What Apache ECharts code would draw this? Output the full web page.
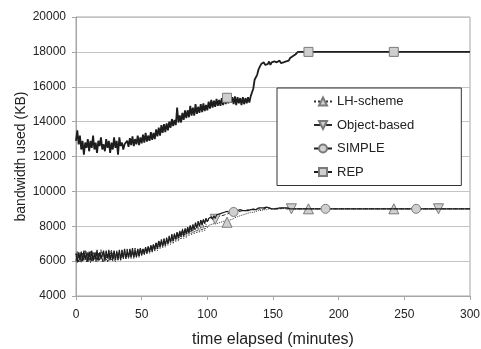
<!DOCTYPE html>
<html><head><meta charset="utf-8">
<script src="https://cdn.jsdelivr.net/npm/echarts@6/dist/echarts.min.js"></script>
<style>html,body{margin:0;padding:0;background:#fff}#c{width:481px;height:349px}</style>
</head><body><div id="c"></div>
<script>
// x axis ticks
const xTicks = [0, 50, 100, 150, 200, 250, 300];
const yTicks = [4000, 6000, 8000, 10000, 12000, 14000, 16000, 18000, 20000];
const seriesNames = ['LH-scheme', 'Object-based', 'SIMPLE', 'REP'];

// REP, one sample per minute from 0 to 170
const repValues = [
12900,13500,12700,13200,12400,12900,12100,12800,12500,13000,
12300,12900,12500,13200,12400,12800,12200,12900,12600,13100,
12400,12700,12300,13000,12500,12900,12200,12800,12400,13100,
12500,12900,12100,13100,12600,12800,12400,12700,12600,12900,
12550,13050,12650,13150,12600,13000,12700,13200,12650,13100,
12750,13250,12800,13350,12850,13200,12900,13400,12950,13350,
13000,13550,13150,13650,13200,13800,13350,13850,13400,13900,
13500,14000,13650,14150,13750,14100,13800,14800,13950,14350,
13950,14500,14100,14650,14200,14650,14250,14900,14350,14800,
14350,15000,14450,14850,14500,15000,14550,15050,14600,14950,
14650,15150,14750,15250,14800,15200,14850,15300,14900,15250,
14900,15350,14950,15400,15000,15370,15050,15500,15100,15400,
15000,15450,14950,15400,15050,15350,14950,15400,15000,15350,
15050,15400,15100,15450,15550,15900,16400,16300,16700,17000,
17150,17300,17200,17400,17250,17350,17300,17450,17250,17400,
17300,17450,17350,17400,17300,17500,17350,17450,17400,17500,
17450,17550,17500,17650,17600,17750,17700,17850,17900,18000,
18000];
const repTail = [[177, 18000], [242, 18000], [300, 18000]];
const repMarks = [115, 177, 242];

// SIMPLE, one sample per minute from 0 to 165
const simpleValues = [
6450,5950,6500,6050,6550,6000,6600,6100,6450,5950,
6550,6050,6600,6000,6450,6100,6650,6050,6500,6150,
6050,6600,6000,6550,6150,6650,6050,6500,6100,6600,
6050,6550,6150,6650,6100,6600,6200,6700,6150,6600,
6200,6700,6250,6750,6200,6650,6250,6700,6300,6750,
6350,6700,6400,6800,6450,6850,6500,6900,6550,6950,
6650,7050,6700,7150,6800,7200,6850,7250,6900,7300,
7000,7400,7100,7500,7150,7550,7250,7650,7300,7700,
7400,7800,7450,7850,7550,7950,7600,8050,7700,8100,
7800,8200,7900,8250,8000,8350,8050,8400,8150,8450,
8250,8450,8350,8550,8400,8600,8450,8650,8550,8700,
8600,8750,8650,8800,8700,8850,8750,8800,8750,8850,
8820,8850,8800,8900,8850,8950,8850,8900,8950,8900,
8950,8900,9000,8950,9000,8950,9050,8950,9000,9050,
9000,9050,9000,9050,9000,9100,9000,9050,9050,9000,
9050,9000,9100,9000,9050,9050,9000,9050,9000,9050,
9000,9050,9000,9000,9000,9000];
const simpleTail = [[190, 9000], [259, 9000], [300, 9000]];
const simpleMarks = [120, 190, 259];

// Object-based
const objectValues = [
6000,6550,5950,6500,5900,6450,6050,6600,5950,6550,
6050,6600,5950,6500,6100,6550,5950,6450,6050,6650,
5950,6500,6100,6600,5950,6450,6050,6650,6000,6550,
6100,6600,6000,6500,6050,6650,6100,6600,6150,6700,
6200,6650,6150,6600,6250,6750,6200,6650,6300,6750,
6400,6750,6450,6800,6500,6850,6550,6950,6650,7000,
6700,7100,6800,7200,6850,7250,6900,7300,7000,7350,
7050,7450,7150,7550,7200,7600,7300,7700,7350,7750,
7450,7850,7550,7900,7600,7950,7700,8050,7750,8100,
7850,8200,7950,8300,8000,8350,8100,8400,8150,8450,
8250,8400,8300,8450,8350,8500,8400,8450,8500,8550,
8500,8600,8550,8650,8600,8700,8650,8750,8700,8750,
8700,8800,8750,8850,8800,8850,8800,8900,8850,8900,
8850,8950,8900,8950,8900,9000,8950,9000,8950,9000,
9000,8950,9050,9000,9000,9050,9000,9050,9000,9000,
9050,9000,9050,9000,9050,9000,9000,9050,9000,9000,
9050,9000,9000,9000,9000,9000];
const objectTail = [[276, 9000], [300, 9000]];
const objectMarks = [106, 164, 276];

// LH-scheme
const lhValues = [
6400,5900,6500,5950,6450,6000,6400,6050,6550,5950,
6450,5900,6400,6050,6500,5950,6450,6000,6400,6100,
6500,5950,6450,6050,6400,6000,6550,6050,6450,6100,
5950,6450,6100,6500,6050,6450,6150,6550,6100,6500,
6150,6600,6200,6650,6150,6550,6250,6700,6200,6600,
6300,6650,6350,6750,6400,6800,6450,6850,6500,6900,
6550,7000,6600,7050,6700,7150,6750,7200,6800,7250,
6900,7300,6950,7400,7000,7450,7100,7500,7150,7550,
7250,7650,7300,7700,7350,7750,7450,7800,7500,7850,
7550,7900,7600,7950,7650,8000,7700,8050,7750,8100,
7900,8050,7950,8100,8000,8150,8050,8150,8100,8200,
8150,8250,8200,8300,8200,8230,8300,8350,8350,8400,
8400,8500,8450,8550,8500,8600,8550,8650,8600,8700,
8650,8750,8700,8800,8750,8800,8800,8850,8800,8900,
8850,8900,8900,8950,8900,8950,8950,9000,8950,9000,
8950,9000,9000,9050,9000,9000,9050,9000,9000,9050,
9000,9000,9000,9000,9000,9000];
const lhTail = [[177, 9000], [242, 9000], [300, 9000]];
const lhMarks = [115, 177, 242];

function build(values, tail) {
  return values.map((v, i) => [i, v]).concat(tail);
}
function sizer(marks, size) {
  return function (val) { return marks.indexOf(val[0]) >= 0 ? size : 0; };
}
const markerStyle = { color: '#cfcfcf', borderColor: '#7a7a7a', borderWidth: 1 };

const chart = echarts.init(document.getElementById('c'), null, { renderer: 'canvas' });
chart.setOption({
  animation: false,
  textStyle: { fontFamily: 'Liberation Sans, Arial, sans-serif' },
  grid: { left: 76, right: 11, top: 17, bottom: 53, show: true, borderColor: '#a6a6a6', borderWidth: 1,
          backgroundColor: '#fff', containLabel: false, outerBoundsMode: 'none' },
  xAxis: {
    type: 'value', min: xTicks[0], max: xTicks[xTicks.length - 1], interval: 50,
    name: 'time elapsed (minutes)', nameLocation: 'middle', nameGap: 36, nameMoveOverlap: false,
    nameTextStyle: { fontSize: 16, color: '#222' },
    axisLine: { lineStyle: { color: '#a6a6a6' } },
    axisTick: { show: true, length: 4, lineStyle: { color: '#a6a6a6' } },
    axisLabel: { fontSize: 12, color: '#222', margin: 13 },
    splitLine: { show: false }
  },
  yAxis: {
    type: 'value', min: yTicks[0], max: yTicks[yTicks.length - 1], interval: 2000,
    name: 'bandwidth used (KB)', nameLocation: 'middle', nameGap: 48, nameMoveOverlap: false,
    nameTextStyle: { fontSize: 14, color: '#222' },
    axisLine: { show: true, lineStyle: { color: '#a6a6a6' } },
    axisTick: { show: true, length: 4, lineStyle: { color: '#a6a6a6' } },
    axisLabel: { fontSize: 12, color: '#222', margin: 10, formatter: v => String(v) },
    splitLine: { show: true, lineStyle: { color: '#c4c4c4', width: 1 } }
  },
  legend: {
    orient: 'vertical', left: 277, top: 88,
    backgroundColor: '#fff', borderColor: '#333', borderWidth: 1,
    padding: [7, 47, 7, 36], itemGap: 10.5, itemWidth: 18, itemHeight: 10,
    textStyle: { fontSize: 13, color: '#222' },
    data: seriesNames
  },
  series: [
    { name: seriesNames[0], type: 'line', data: build(lhValues, lhTail),
      symbol: 'triangle', symbolSize: sizer(lhMarks, 10), showAllSymbol: true,
      lineStyle: { color: '#333', width: 1, type: 'dotted' }, itemStyle: markerStyle, z: 3 },
    { name: seriesNames[1], type: 'line', data: build(objectValues, objectTail),
      symbol: 'triangle', symbolRotate: 180, symbolSize: sizer(objectMarks, 10), showAllSymbol: true,
      lineStyle: { color: '#2a2a2a', width: 1, type: 'dashed' }, itemStyle: markerStyle, z: 4 },
    { name: seriesNames[2], type: 'line', data: build(simpleValues, simpleTail),
      symbol: 'circle', symbolSize: sizer(simpleMarks, 9), showAllSymbol: true,
      lineStyle: { color: '#1e1e1e', width: 1.2 }, itemStyle: markerStyle, z: 5 },
    { name: seriesNames[3], type: 'line', data: build(repValues, repTail),
      symbol: 'rect', symbolSize: sizer(repMarks, 9), showAllSymbol: true,
      lineStyle: { color: '#1e1e1e', width: 1.8 }, itemStyle: markerStyle, z: 6 }
  ]
});
</script></body></html>
